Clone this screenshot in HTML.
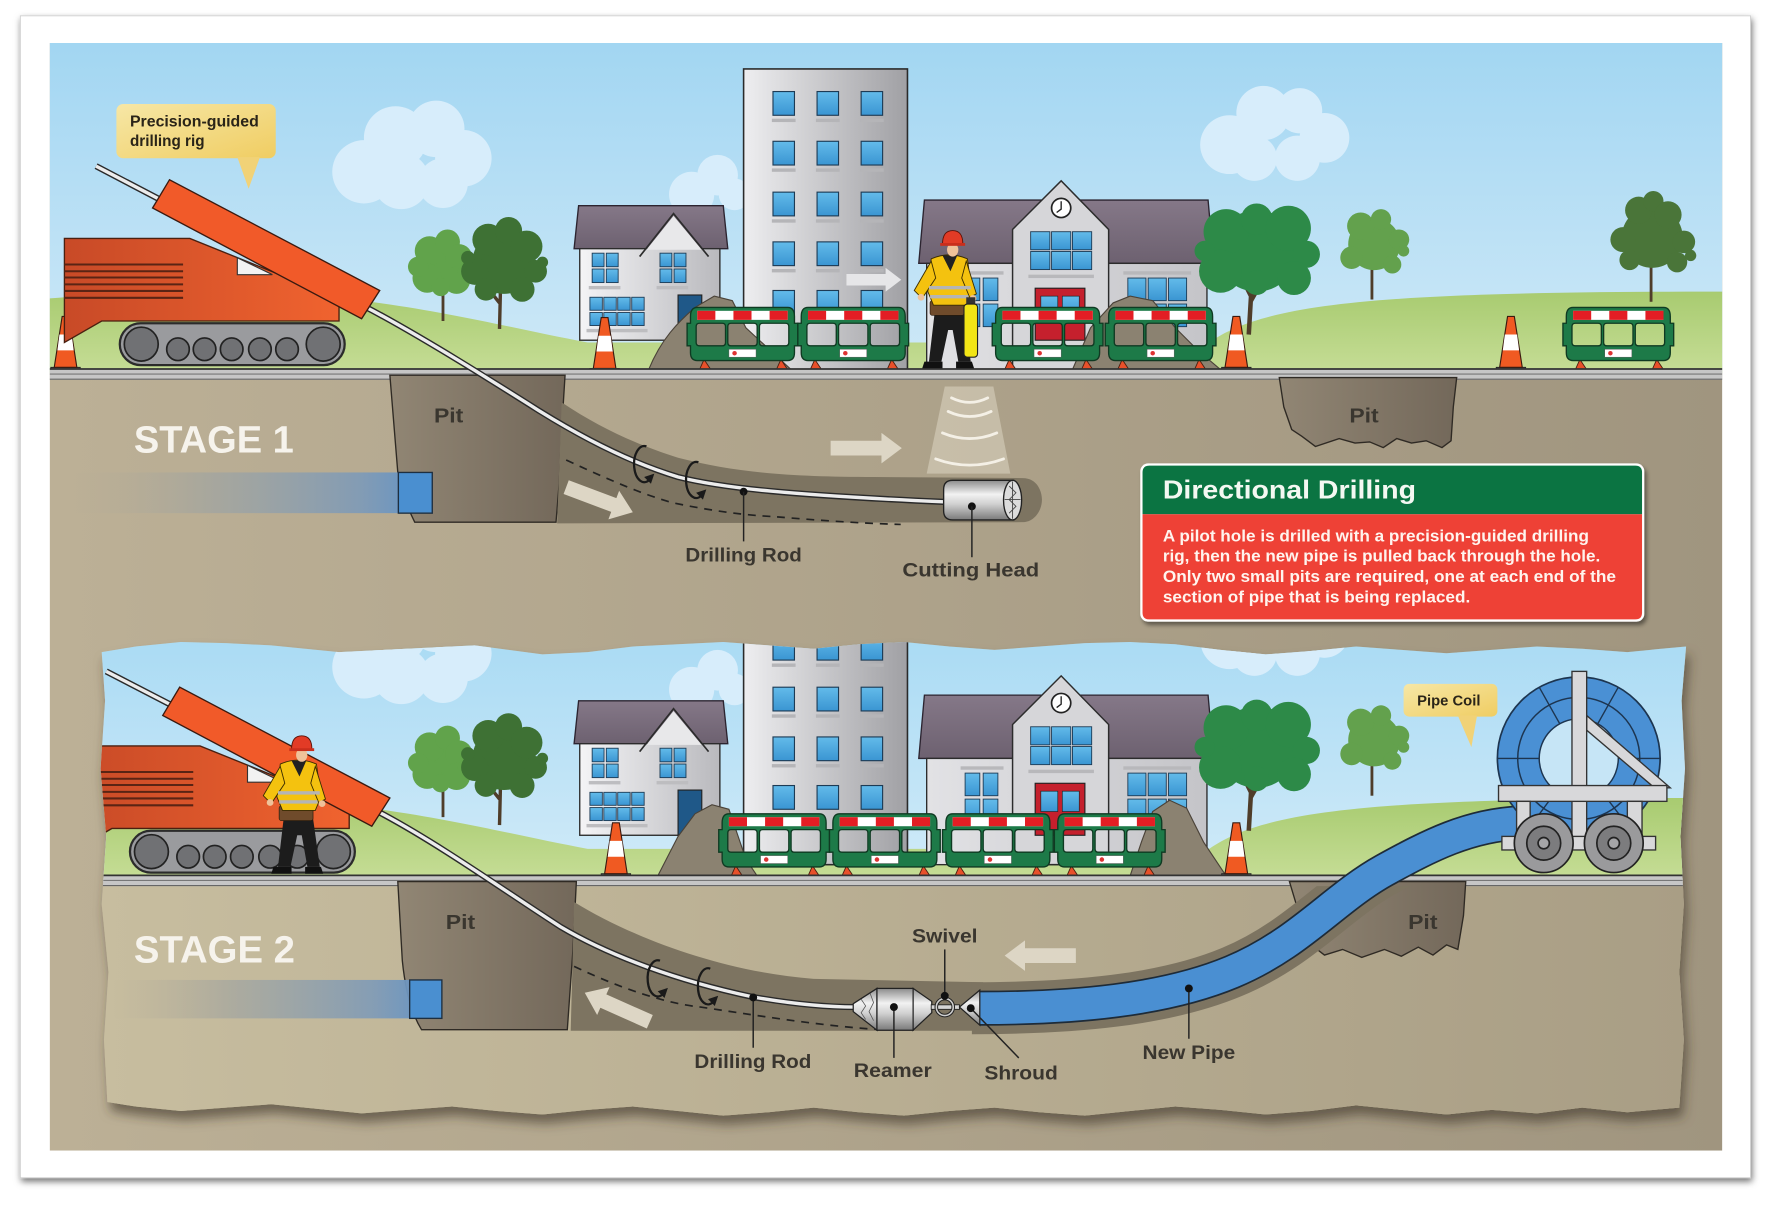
<!DOCTYPE html>
<html><head><meta charset="utf-8"><style>
html,body{margin:0;padding:0;background:#fff;}
svg{display:block;}
text{font-family:"Liberation Sans",sans-serif;font-weight:bold;}
</style></head><body>
<svg width="1772" height="1206" viewBox="0 0 1568 1067" preserveAspectRatio="none" xmlns="http://www.w3.org/2000/svg">
<defs>
<linearGradient id="gTan" gradientUnits="userSpaceOnUse" x1="44" y1="0" x2="1524" y2="0"><stop offset="0" stop-color="#bcb096"/><stop offset="1" stop-color="#a0957f"/></linearGradient>
<linearGradient id="gTan2" gradientUnits="userSpaceOnUse" x1="90" y1="0" x2="1495" y2="0"><stop offset="0" stop-color="#c7bd9f"/><stop offset="1" stop-color="#a99e85"/></linearGradient>
<linearGradient id="gSky" gradientUnits="userSpaceOnUse" x1="0" y1="38" x2="0" y2="320"><stop offset="0" stop-color="#a2d6f2"/><stop offset="1" stop-color="#cde8f7"/></linearGradient>
<linearGradient id="gSky2" gradientUnits="userSpaceOnUse" x1="0" y1="565" x2="0" y2="775"><stop offset="0" stop-color="#aadbf4"/><stop offset="1" stop-color="#d0eaf8"/></linearGradient>
<linearGradient id="gGrass" x1="0" y1="0" x2="0" y2="1"><stop offset="0" stop-color="#a8cb70"/><stop offset="1" stop-color="#c6dd96"/></linearGradient>
<linearGradient id="gPit" x1="0" y1="0" x2="1" y2="0"><stop offset="0" stop-color="#918674"/><stop offset="1" stop-color="#73685a"/></linearGradient>
<linearGradient id="gBody" x1="0" y1="0" x2="1" y2="0"><stop offset="0" stop-color="#c84a27"/><stop offset="1" stop-color="#f0632f"/></linearGradient>
<linearGradient id="gBld" x1="0" y1="0" x2="1" y2="0"><stop offset="0" stop-color="#eeeef0"/><stop offset="1" stop-color="#a0a0a4"/></linearGradient>
<linearGradient id="gWall" x1="0" y1="0" x2="1" y2="0"><stop offset="0" stop-color="#f4f4f6"/><stop offset="1" stop-color="#b9b9bd"/></linearGradient>
<linearGradient id="gSch" x1="0" y1="0" x2="1" y2="0"><stop offset="0" stop-color="#e2e2e5"/><stop offset="1" stop-color="#c4c4c8"/></linearGradient>
<linearGradient id="gRoof" x1="0" y1="0" x2="0" y2="1"><stop offset="0" stop-color="#857888"/><stop offset="1" stop-color="#6d6170"/></linearGradient>
<linearGradient id="gWin" x1="0" y1="0" x2="0" y2="1"><stop offset="0" stop-color="#63bbea"/><stop offset="1" stop-color="#3a95d2"/></linearGradient>
<linearGradient id="gBand" x1="0" y1="0" x2="1" y2="0"><stop offset="0" stop-color="#b4ab96" stop-opacity="0"/><stop offset="0.35" stop-color="#a3a59f" stop-opacity="0.7"/><stop offset="0.8" stop-color="#7d9ab8" stop-opacity="0.9"/><stop offset="1" stop-color="#5e92c8"/></linearGradient>
<linearGradient id="gMetal" x1="0" y1="0" x2="0" y2="1"><stop offset="0" stop-color="#8c8c8c"/><stop offset="0.35" stop-color="#f2f2f2"/><stop offset="0.6" stop-color="#d0d0d0"/><stop offset="1" stop-color="#7a7a7a"/></linearGradient>
<linearGradient id="gYel" x1="0" y1="0" x2="1" y2="1"><stop offset="0" stop-color="#f6e7a6"/><stop offset="1" stop-color="#f0cd62"/></linearGradient>
<filter id="fFrame" x="-5%" y="-5%" width="110%" height="110%"><feDropShadow dx="1" dy="3" stdDeviation="3" flood-color="#000" flood-opacity=".55"/></filter>
<filter id="fPanel" x="-5%" y="-10%" width="110%" height="125%"><feDropShadow dx="3" dy="8" stdDeviation="5" flood-color="#3e3427" flood-opacity=".6"/></filter>
<filter id="fBox" x="-5%" y="-10%" width="110%" height="125%"><feDropShadow dx="2" dy="3" stdDeviation="2" flood-color="#000" flood-opacity=".45"/></filter>

<clipPath id="cpInner"><rect x="44" y="38" width="1480" height="980"/></clipPath>
<clipPath id="cpUnder"><rect x="0" y="784" width="1568" height="300"/></clipPath>
<clipPath id="cp2"><path d="M90,577 L120,572 L160,568 L200,569 L240,571 L270,574 L300,577 L340,575 L380,573 L420,571 L450,575 L480,579 L520,577 L560,572 L600,570 L640,568 L680,571 L720,574 L760,570 L800,568 L840,572 L880,575 L920,572 L960,569 L1000,568 L1040,570 L1080,575 L1120,579 L1160,576 L1200,572 L1240,575 L1280,578 L1320,575 L1360,572 L1400,574 L1440,577 L1470,574 L1492,572 L1488,620 L1491,680 L1487,740 L1490,800 L1486,860 L1490,920 L1486,980 L1440,984 L1400,980 L1360,985 L1320,982 L1280,986 L1240,982 L1200,978 L1160,983 L1120,986 L1080,982 L1040,979 L1000,983 L960,987 L920,984 L880,980 L840,983 L800,987 L760,984 L720,980 L680,984 L640,987 L600,983 L560,979 L520,982 L480,986 L440,983 L400,979 L360,982 L320,985 L280,981 L240,977 L200,980 L160,983 L120,979 L95,975 L92,920 L96,860 L90,800 L94,740 L89,680 L93,620 Z"/></clipPath>

<path id="arr" d="M0,-6.5 H45 V-13.5 L63,0 L45,13.5 V6.5 H0 Z"/>

<g id="rot">
 <path d="M3,-16 A9,16 0 1 0 6,13" fill="none" stroke="#1a1a1a" stroke-width="2"/>
 <path d="M1,11 L10,8 L7,17 Z" fill="#1a1a1a"/>
</g>

<g id="cone">
 <rect x="0" y="45" width="26" height="5" fill="#555" stroke="#222" stroke-width=".8"/>
 <path d="M10,0 H16 L23,45 H3 Z" fill="#f05a22" stroke="#3a1a10" stroke-width="1"/>
 <path d="M7.6,16 H18.4 L20.2,30 H5.8 Z" fill="#fff"/>
</g>

<g id="barrier">
 <path d="M14,46 L10,55 L20,55 Z M82,46 L78,55 L88,55 Z" fill="#e8502a" stroke="#4a1f10" stroke-width="0.8"/>
 <path fill="#1d7a48" stroke="#0f3a22" stroke-width="1.2" fill-rule="evenodd" d="M8,0 H88 Q94,0 94,8 V14 H97 V34 H94 V40 Q94,47 88,47 H8 Q2,47 2,40 V34 H-1 V14 H2 V8 Q2,0 8,0 Z M10,14 H30 Q33,14 33,17 V31 Q33,34 30,34 H10 Q7,34 7,31 V17 Q7,14 10,14 Z M38,14 H58 Q61,14 61,17 V31 Q61,34 58,34 H38 Q35,34 35,31 V17 Q35,14 38,14 Z M66,14 H86 Q89,14 89,17 V31 Q89,34 86,34 H66 Q63,34 63,31 V17 Q63,14 66,14 Z"/>
 <rect x="8" y="3" width="80" height="8" fill="#fff"/>
 <rect x="8" y="3" width="16" height="8" fill="#e31e24"/>
 <rect x="40" y="3" width="16" height="8" fill="#e31e24"/>
 <rect x="72" y="3" width="16" height="8" fill="#e31e24"/>
 <rect x="36" y="37" width="24" height="7" fill="#fff" stroke="#555" stroke-width=".4"/>
 <circle cx="41" cy="40.5" r="2" fill="#d33"/>
</g>

<g id="clouds" fill="#d7edfb">
 <circle cx="322" cy="152" r="28"/><circle cx="350" cy="122" r="28"/><circle cx="386" cy="114" r="25"/><circle cx="410" cy="140" r="25"/><circle cx="392" cy="162" r="22"/><circle cx="355" cy="160" r="25"/>
 <circle cx="1088" cy="128" r="26"/><circle cx="1118" cy="100" r="24"/><circle cx="1150" cy="98" r="20"/><circle cx="1172" cy="122" r="22"/><circle cx="1148" cy="140" r="20"/><circle cx="1110" cy="140" r="20"/>
 <circle cx="612" cy="172" r="20"/><circle cx="635" cy="155" r="18"/><circle cx="650" cy="172" r="14"/>
</g>

<path id="grass" d="M44,264 C120,258 230,256 320,266 C400,276 460,292 520,303 L1070,303 C1120,268 1220,258 1524,258 L1524,330 L44,330 Z" fill="url(#gGrass)"/>

<g id="treesAB">
 <path d="M392,284 L392,246 M392,262 L386,252" stroke="#4f3d2a" stroke-width="2.5" fill="none"/>
 <g fill="#61a34b"><circle cx="391" cy="235" r="22"/><circle cx="380" cy="222" r="13"/><circle cx="396" cy="214" r="11"/><circle cx="406" cy="228" r="12"/><circle cx="378" cy="246" r="13"/><circle cx="404" cy="248" r="12"/><circle cx="370" cy="236" r="9"/><circle cx="412" cy="240" r="7"/><circle cx="390" cy="254" r="8"/></g>
 <path d="M442,291 L443,250 M442,268 L434,258" stroke="#4f3d2a" stroke-width="3" fill="none"/>
 <g fill="#3e7134"><circle cx="446" cy="232" r="28"/><circle cx="432" cy="212" r="14"/><circle cx="450" cy="204" r="12"/><circle cx="466" cy="218" r="14"/><circle cx="474" cy="240" r="10"/><circle cx="420" cy="240" r="12"/><circle cx="430" cy="256" r="10"/><circle cx="462" cy="256" r="11"/><circle cx="414" cy="228" r="6"/><circle cx="480" cy="232" r="5"/></g>
</g>

<g id="treesCD">
 <path d="M1105,296 L1107,262 L1100,248 M1107,266 L1116,250" stroke="#4f3d2a" stroke-width="4" fill="none"/>
 <g fill="#2d8a48"><circle cx="1112" cy="222" r="36"/><circle cx="1085" cy="205" r="20"/><circle cx="1112" cy="194" r="14"/><circle cx="1140" cy="202" r="20"/><circle cx="1156" cy="225" r="12"/><circle cx="1145" cy="246" r="15"/><circle cx="1080" cy="240" r="19"/><circle cx="1066" cy="222" r="9"/><circle cx="1112" cy="250" r="11"/></g>
 <path d="M1214,265 L1214,232" stroke="#4f3d2a" stroke-width="2.5" fill="none"/>
 <g fill="#63a14d"><circle cx="1216" cy="216" r="23"/><circle cx="1204" cy="200" r="12"/><circle cx="1222" cy="194" r="9"/><circle cx="1238" cy="212" r="9"/><circle cx="1196" cy="228" r="10"/><circle cx="1232" cy="234" r="8"/><circle cx="1242" cy="222" r="5"/></g>
</g>

<g id="town">
 <!-- house -->
 <path d="M508,220 L512,182 L640,182 L644,220 Z" fill="url(#gRoof)" stroke="#2c2430" stroke-width="1.2"/>
 <rect x="513" y="220" width="124" height="81" fill="url(#gWall)" stroke="#2c2c2c" stroke-width="1.2"/>
 <path d="M572,221 L596,191 L621,221 Z" fill="#e8e8ea"/>
 <path d="M566,227 L596,189 L627,227" fill="none" stroke="#2c2c2c" stroke-width="1.5"/>
 <g fill="url(#gWin)" stroke="#1d3b55" stroke-width=".8">
  <rect x="524" y="224" width="10.5" height="12"/><rect x="536.5" y="224" width="10.5" height="12"/><rect x="524" y="238" width="10.5" height="12"/><rect x="536.5" y="238" width="10.5" height="12"/>
  <rect x="584" y="224" width="10.5" height="12"/><rect x="596.5" y="224" width="10.5" height="12"/><rect x="584" y="238" width="10.5" height="12"/><rect x="596.5" y="238" width="10.5" height="12"/>
  <rect x="522" y="263" width="11" height="11.5"/><rect x="534.3" y="263" width="11" height="11.5"/><rect x="546.6" y="263" width="11" height="11.5"/><rect x="559" y="263" width="11" height="11.5"/>
  <rect x="522" y="276.5" width="11" height="11.5"/><rect x="534.3" y="276.5" width="11" height="11.5"/><rect x="546.6" y="276.5" width="11" height="11.5"/><rect x="559" y="276.5" width="11" height="11.5"/>
 </g>
 <g fill="#bdbdc0"><rect x="521" y="253" width="28" height="3"/><rect x="581" y="253" width="28" height="3"/><rect x="519" y="291" width="54" height="3"/></g>
 <rect x="600" y="261" width="21" height="40" fill="#1f5888" stroke="#222" stroke-width="1"/>
 <!-- tall building -->
 <rect x="658" y="61" width="145" height="266" fill="url(#gBld)" stroke="#2a2a2a" stroke-width="1.4"/>
 <g fill="url(#gWin)" stroke="#1d3b55" stroke-width="1">
  <rect x="684" y="81" width="19" height="21"/><rect x="723" y="81" width="19" height="21"/><rect x="762" y="81" width="19" height="21"/>
  <rect x="684" y="125" width="19" height="21"/><rect x="723" y="125" width="19" height="21"/><rect x="762" y="125" width="19" height="21"/>
  <rect x="684" y="170" width="19" height="21"/><rect x="723" y="170" width="19" height="21"/><rect x="762" y="170" width="19" height="21"/>
  <rect x="684" y="214" width="19" height="21"/><rect x="723" y="214" width="19" height="21"/><rect x="762" y="214" width="19" height="21"/>
  <rect x="684" y="257" width="19" height="21"/><rect x="723" y="257" width="19" height="21"/><rect x="762" y="257" width="19" height="21"/>
 </g>
 <g fill="#b5b5b8">
  <rect x="683" y="105" width="21" height="3"/><rect x="722" y="105" width="21" height="3"/><rect x="761" y="105" width="21" height="3"/>
  <rect x="683" y="149" width="21" height="3"/><rect x="722" y="149" width="21" height="3"/><rect x="761" y="149" width="21" height="3"/>
  <rect x="683" y="194" width="21" height="3"/><rect x="722" y="194" width="21" height="3"/><rect x="761" y="194" width="21" height="3"/>
  <rect x="683" y="238" width="21" height="3"/><rect x="722" y="238" width="21" height="3"/><rect x="761" y="238" width="21" height="3"/>
 </g>
 <!-- school -->
 <path d="M818,177 L1069,177 L1074,233 L813,233 Z" fill="url(#gRoof)" stroke="#2c2430" stroke-width="1.2"/>
 <rect x="820" y="233" width="248" height="94" fill="url(#gSch)" stroke="#2c2c2c" stroke-width="1.2"/>
 <g fill="#b8b8bb"><rect x="850" y="240" width="38" height="3"/><rect x="994" y="240" width="60" height="3"/></g>
 <path d="M896,327 V203 L939,160 L981,203 V327 Z" fill="#d6d6d9" stroke="#2c2c2c" stroke-width="1.3"/>
 <circle cx="939" cy="184" r="8.5" fill="#fff" stroke="#222" stroke-width="1.5"/>
 <path d="M939,178 V185 L935,188" stroke="#222" fill="none" stroke-width="1.2"/>
 <g fill="url(#gWin)" stroke="#1d3b55" stroke-width=".8">
  <rect x="912" y="205" width="17" height="16"/><rect x="930.5" y="205" width="17" height="16"/><rect x="949" y="205" width="17" height="16"/>
  <rect x="912" y="222.5" width="17" height="16"/><rect x="930.5" y="222.5" width="17" height="16"/><rect x="949" y="222.5" width="17" height="16"/>
  <rect x="854" y="246" width="13" height="20"/><rect x="870" y="246" width="13" height="20"/><rect x="854" y="269" width="13" height="20"/><rect x="870" y="269" width="13" height="20"/>
  <rect x="998" y="246" width="16" height="20"/><rect x="1016" y="246" width="16" height="20"/><rect x="1034" y="246" width="16" height="20"/>
  <rect x="998" y="269" width="16" height="20"/><rect x="1016" y="269" width="16" height="20"/><rect x="1034" y="269" width="16" height="20"/>
 </g>
 <rect x="910" y="243" width="58" height="3" fill="#b8b8bb"/>
 <rect x="916" y="255" width="44" height="46" fill="#c5202d" stroke="#222" stroke-width="1"/>
 <rect x="921" y="262" width="15" height="18" fill="url(#gWin)" stroke="#222" stroke-width=".6"/>
 <rect x="940" y="262" width="15" height="18" fill="url(#gWin)" stroke="#222" stroke-width=".6"/>
</g>

<g id="rigbody">
 <path d="M57,211 L168,211 L240,240 L300,264 L300,284 L90,284 L57,303 Z" fill="url(#gBody)" stroke="#4a2010" stroke-width="1.2"/>
 <g stroke="#5a2414" stroke-width="1.8">
  <line x1="57" y1="234" x2="162" y2="234"/><line x1="57" y1="240" x2="162" y2="240"/><line x1="57" y1="245.5" x2="162" y2="245.5"/><line x1="57" y1="251.6" x2="162" y2="251.6"/><line x1="57" y1="257.4" x2="162" y2="257.4"/><line x1="57" y1="263.5" x2="162" y2="263.5"/>
 </g>
 <path d="M210,228 L210,243 L241,243 Z" fill="#f2f2f2" stroke="#333" stroke-width="1"/>
 <rect x="106" y="286" width="199" height="37" rx="18.5" fill="#9a9b9e" stroke="#2b2b2b" stroke-width="2"/>
 <g fill="#707174" stroke="#222" stroke-width="1.5">
  <circle cx="125" cy="304.5" r="15"/><circle cx="286" cy="304.5" r="15"/>
  <circle cx="157.5" cy="309" r="10"/><circle cx="181" cy="309" r="10"/><circle cx="205" cy="309" r="10"/><circle cx="230" cy="309" r="10"/><circle cx="254" cy="309" r="10"/>
 </g>
</g>
<path id="boom" d="M135,184 L150,159 L336,257 L320,282 Z" fill="#f15a29" stroke="#3a1a10" stroke-width="1.2"/>

<g id="worker">
 <path d="M827,277 L822,320 L833,320 L839,292 L843,292 L848,320 L859,320 L853,277 Z" fill="#1c1c1c"/>
 <path d="M818,320 h16 v6 h-18 Z M846,320 h14 l2,6 h-16 Z" fill="#111"/>
 <rect x="823" y="266" width="30" height="13" rx="2" fill="#6f4b2b" stroke="#2a1a0a" stroke-width=".6"/>
 <path d="M824,229 Q840,222 856,229 L860,258 L855,270 L826,270 L821,258 Z" fill="#f4c20f" stroke="#3a2c00" stroke-width=".8"/>
 <path d="M834,226 L841,240 L847,226 Z" fill="#222"/>
 <path d="M824,231 L809,257 L816,264 L828,246 Z" fill="#f4c20f" stroke="#3a2c00" stroke-width=".8"/>
 <path d="M855,231 L864,260 L858,263 L851,246 Z" fill="#f4c20f" stroke="#3a2c00" stroke-width=".8"/>
 <rect x="822" y="253" width="37" height="3" fill="#b5b5b5"/>
 <rect x="823" y="261" width="34" height="3" fill="#b5b5b5"/>
 <circle cx="815" cy="263" r="3" fill="#efc29a"/>
 <circle cx="861" cy="264" r="3" fill="#efc29a"/>
 <ellipse cx="843" cy="221" rx="5" ry="6" fill="#efc29a"/>
 <path d="M834,216 Q834,204 843,204 Q852,204 852,216 Z" fill="#e23b26" stroke="#5a1208" stroke-width=".8"/>
 <rect x="832" y="215" width="22" height="2.5" fill="#c92e1c"/>
</g>
</defs>

<!-- outer frame -->
<rect x="18" y="14" width="1531" height="1028" fill="#fff" stroke="#cfcfcf" stroke-width="0.8" filter="url(#fFrame)"/>

<g clip-path="url(#cpInner)">
<rect x="44" y="38" width="1480" height="980" fill="url(#gTan)"/>

<!-- ===== STAGE 1 ===== -->
<rect x="44" y="38" width="1480" height="292" fill="url(#gSky)"/>
<use href="#clouds"/>
<use href="#grass"/>
<use href="#treesAB"/>
<use href="#town"/>
<use href="#treesCD"/>
<path d="M1461,267 L1461,228" stroke="#4f3d2a" stroke-width="2.5"/>
<g fill="#4a7539"><circle cx="1462" cy="210" r="27"/><circle cx="1450" cy="186" r="12"/><circle cx="1463" cy="178" r="9"/><circle cx="1476" cy="190" r="12"/><circle cx="1436" cy="212" r="11"/><circle cx="1490" cy="214" r="10"/><circle cx="1442" cy="230" r="9"/><circle cx="1484" cy="232" r="9"/><circle cx="1496" cy="226" r="5"/></g>
<use href="#arr" transform="translate(749,247.5) scale(0.77,0.78)" fill="#e6e6e8"/>
<path d="M574,327 C585,300 600,285 615,272 L632,262 L648,266 L660,290 L700,327 Z" fill="#8b8271" stroke="#4a4238" stroke-width="1"/>
<path d="M949,327 L965,290 L985,268 L1000,262 L1020,266 L1040,290 L1060,310 L1080,327 Z" fill="#8b8271" stroke="#4a4238" stroke-width="1"/>
<use href="#barrier" x="609" y="272"/>
<use href="#barrier" x="707" y="272"/>
<use href="#barrier" x="879" y="272"/>
<use href="#barrier" x="979" y="272"/>
<use href="#barrier" x="1384" y="272"/>
<use href="#cone" x="45" y="280"/>
<use href="#cone" x="522" y="281"/>
<use href="#cone" x="1081" y="280"/>
<use href="#cone" x="1324" y="280"/>
<use href="#worker"/>
<rect x="855" y="263" width="8" height="8" fill="#333"/>
<rect x="853" y="269" width="12" height="47" rx="3" fill="#f2e516" stroke="#222" stroke-width="1"/>
<use href="#rigbody"/>
<rect x="44" y="326" width="1480" height="10" fill="#c6c6c6"/>
<line x1="44" y1="326.5" x2="1524" y2="326.5" stroke="#333" stroke-width="1.5"/>
<line x1="44" y1="331" x2="1524" y2="331" stroke="#777" stroke-width="1"/>
<line x1="44" y1="335.5" x2="1524" y2="335.5" stroke="#666" stroke-width="1"/>
<rect x="103" y="92" width="141" height="48" rx="6" fill="url(#gYel)"/>
<path d="M210,139 L230,139 L220,167 Z" fill="#f1d277"/>
<text x="115" y="112" font-size="14" fill="#2a2418" textLength="114" lengthAdjust="spacingAndGlyphs">Precision-guided</text>
<text x="115" y="129" font-size="14" fill="#2a2418" textLength="66" lengthAdjust="spacingAndGlyphs">drilling rig</text>

<path d="M345,332 L500,332 L497,380 L495,425 L492,462 L367,462 Q356,440 352,418 Z" fill="url(#gPit)" stroke="#2f2a24" stroke-width="1.2"/>
<path d="M1132,334 L1289,334 L1286,360 L1284,390 L1276,396 L1262,390 L1249,392 L1236,388 L1224,396 L1212,391 L1199,392 L1185,388 L1164,395 L1152,386 L1143,380 L1136,360 Z" fill="url(#gPit)" stroke="#2f2a24" stroke-width="1.2"/>
<path d="M497,356 C530,378 560,392 600,405 C650,418 700,422 773,422 L905,423 C918,423 922,435 922,442 C922,452 915,462 905,462 L493,463 Z" fill="#7d7461"/>
<path d="M501,407 C540,425 570,438 596,445 C630,452 660,456 684,457 C720,460 760,463 797,464" fill="none" stroke="#222" stroke-width="1.5" stroke-dasharray="7 6"/>
<rect x="65" y="418" width="317" height="36" fill="url(#gBand)"/>
<rect x="352.5" y="418" width="30" height="36" fill="#4a8fd0" stroke="#1e2f40" stroke-width="1.2"/>
<text x="118.5" y="400.5" font-size="34" fill="#f6f3ec" textLength="141.5" lengthAdjust="spacingAndGlyphs">STAGE 1</text>
<text x="384" y="374" font-size="18" fill="#3a362f" textLength="26" lengthAdjust="spacingAndGlyphs">Pit</text>
<text x="1194" y="374" font-size="18" fill="#3a362f" textLength="26" lengthAdjust="spacingAndGlyphs">Pit</text>
<use href="#arr" transform="translate(501,431) rotate(20.6)" fill="#ddd6c5"/>
<use href="#arr" transform="translate(735,396.5)" fill="#ddd6c5"/>
<path d="M836,342 L879,342 L894,419 L820,419 Z" fill="#e6dfcf" opacity=".45"/>
<g fill="none" stroke="#f4f0e6" stroke-width="2.5" stroke-linecap="round">
 <path d="M842,352 Q858,360 874,352"/><path d="M839,364 Q858,373 877,364"/><path d="M834,383 Q858,393 882,383"/><path d="M828,406 Q858,417 888,406"/>
</g>
<path d="M85,147 L330,275 C380,302 440,340 478,364 C520,390 560,410 600,422 C640,432 700,438 835,444" fill="none" stroke="#2a2a2a" stroke-width="5.5"/>
<path d="M85,147 L330,275 C380,302 440,340 478,364 C520,390 560,410 600,422 C640,432 700,438 835,444" fill="none" stroke="#ececec" stroke-width="3"/>
<use href="#boom"/>
<use href="#rot" transform="translate(569,411)"/>
<use href="#rot" transform="translate(615,425)"/>
<path d="M843,425 H897 V460 H843 Q835,460 835,452 V433 Q835,425 843,425 Z" fill="url(#gMetal)" stroke="#222" stroke-width="1.2"/>
<ellipse cx="896" cy="442.5" rx="8" ry="17.5" fill="#dcdcdc" stroke="#222" stroke-width="1.2"/>
<path d="M896,426 V459 M889,442 H903 M893,430 L899,436 L893,442 L899,448 L893,454" fill="none" stroke="#444" stroke-width=".8"/>
<circle cx="658" cy="435" r="3.5" fill="#111"/>
<line x1="658" y1="435" x2="658" y2="479" stroke="#222" stroke-width="1.3"/>
<circle cx="860" cy="448" r="3.5" fill="#111"/>
<line x1="860" y1="448" x2="860" y2="493" stroke="#222" stroke-width="1.3"/>
<text x="606.5" y="497" font-size="17" fill="#3a362f" textLength="103" lengthAdjust="spacingAndGlyphs">Drilling Rod</text>
<text x="798.5" y="510" font-size="17" fill="#3a362f" textLength="121" lengthAdjust="spacingAndGlyphs">Cutting Head</text>

<rect x="1009" y="410" width="446" height="140" rx="7" fill="#fff" filter="url(#fBox)"/>
<path d="M1011,455 V418 Q1011,412 1017,412 H1447 Q1453,412 1453,418 V455 Z" fill="#0b7442"/>
<path d="M1011,455 H1453 V542 Q1453,548 1447,548 H1017 Q1011,548 1011,542 Z" fill="#ee4136"/>
<text x="1029" y="441" font-size="23" fill="#f4f8f2" textLength="224" lengthAdjust="spacingAndGlyphs">Directional Drilling</text>
<g font-size="14.5" fill="#fff4ee">
<text x="1029" y="479" textLength="377" lengthAdjust="spacingAndGlyphs">A pilot hole is drilled with a precision-guided drilling</text>
<text x="1029" y="497" textLength="387" lengthAdjust="spacingAndGlyphs">rig, then the new pipe is pulled back through the hole.</text>
<text x="1029" y="515" textLength="401" lengthAdjust="spacingAndGlyphs">Only two small pits are required, one at each end of the</text>
<text x="1029" y="533" textLength="272" lengthAdjust="spacingAndGlyphs">section of pipe that is being replaced.</text>
</g>

<!-- ===== STAGE 2 ===== -->
<path d="M90,577 L120,572 L160,568 L200,569 L240,571 L270,574 L300,577 L340,575 L380,573 L420,571 L450,575 L480,579 L520,577 L560,572 L600,570 L640,568 L680,571 L720,574 L760,570 L800,568 L840,572 L880,575 L920,572 L960,569 L1000,568 L1040,570 L1080,575 L1120,579 L1160,576 L1200,572 L1240,575 L1280,578 L1320,575 L1360,572 L1400,574 L1440,577 L1470,574 L1492,572 L1488,620 L1491,680 L1487,740 L1490,800 L1486,860 L1490,920 L1486,980 L1440,984 L1400,980 L1360,985 L1320,982 L1280,986 L1240,982 L1200,978 L1160,983 L1120,986 L1080,982 L1040,979 L1000,983 L960,987 L920,984 L880,980 L840,983 L800,987 L760,984 L720,980 L680,984 L640,987 L600,983 L560,979 L520,982 L480,986 L440,983 L400,979 L360,982 L320,985 L280,981 L240,977 L200,980 L160,983 L120,979 L95,975 L92,920 L96,860 L90,800 L94,740 L89,680 L93,620 Z" fill="#b9af92" filter="url(#fPanel)"/>
<g clip-path="url(#cp2)">
 <rect x="85" y="560" width="1415" height="440" fill="url(#gTan2)"/>
 <rect x="85" y="560" width="1415" height="220" fill="url(#gSky2)"/>
 <use href="#clouds" transform="translate(0,438)"/>
 <use href="#grass" transform="translate(0,448)"/>
 <use href="#treesAB" transform="translate(0,439)"/>
 <use href="#town" transform="translate(0,438)"/>
 <use href="#treesCD" transform="translate(0,439)"/>
 <path d="M582,775 L600,740 L615,720 L630,712 L645,716 L660,760 L670,775 Z" fill="#8b8271" stroke="#4a4238" stroke-width="1"/>
 <path d="M1000,775 L1010,745 L1020,718 L1035,708 L1050,715 L1065,745 L1085,775 Z" fill="#8b8271" stroke="#4a4238" stroke-width="1"/>
 <use href="#barrier" x="637" y="720"/>
 <use href="#barrier" x="735" y="720"/>
 <use href="#barrier" x="835" y="720"/>
 <use href="#barrier" x="934" y="720"/>
 <use href="#cone" x="532" y="728"/>
 <use href="#cone" x="1081" y="728"/>
 <use href="#rigbody" transform="translate(9,449)"/>
 <rect x="85" y="774" width="1415" height="10" fill="#c6c6c6"/>
 <line x1="85" y1="774.5" x2="1500" y2="774.5" stroke="#333" stroke-width="1.5"/>
 <line x1="85" y1="779" x2="1500" y2="779" stroke="#777" stroke-width="1"/>
 <line x1="85" y1="783.5" x2="1500" y2="783.5" stroke="#666" stroke-width="1"/>
 <path d="M352,780 L510,780 L507,840 L502,911 L373,911 Q360,890 356,850 Z" fill="url(#gPit)" stroke="#2f2a24" stroke-width="1.2"/>
 <path d="M1141,780 L1297,780 L1295,810 L1290,840 L1280,836 L1268,845 L1255,838 L1240,846 L1225,840 L1205,847 L1188,840 L1172,845 L1163,838 L1150,810 Z" fill="url(#gPit)" stroke="#2f2a24" stroke-width="1.2"/>
 <path d="M508,798 C560,830 640,860 720,866 L870,869 L870,912 L505,912 Z" fill="#7d7461"/>
 <path clip-path="url(#cpUnder)" d="M860,892 C950,892 1030,885 1090,860 C1150,835 1180,795 1225,770 C1265,748 1300,730 1345,728" fill="none" stroke="#7d7461" stroke-width="46"/>
 <path d="M508,855 C550,875 590,888 620,891 C680,900 730,908 780,911" fill="none" stroke="#222" stroke-width="1.5" stroke-dasharray="7 6"/>
 <rect x="100" y="867" width="291" height="34" fill="url(#gBand)"/>
 <rect x="362.5" y="867" width="28.5" height="34" fill="#4a8fd0" stroke="#1e2f40" stroke-width="1.2"/>
 <text x="118.5" y="851.5" font-size="34" fill="#f6f3ec" textLength="142.5" lengthAdjust="spacingAndGlyphs">STAGE 2</text>
 <text x="394.5" y="822" font-size="18" fill="#3a362f" textLength="26" lengthAdjust="spacingAndGlyphs">Pit</text>
 <text x="1246" y="822" font-size="18" fill="#3a362f" textLength="26" lengthAdjust="spacingAndGlyphs">Pit</text>
 <use href="#arr" transform="translate(575,904) rotate(204)" fill="#ddd6c5"/>
 <use href="#arr" transform="translate(952,845.5) rotate(180)" fill="#ddd6c5"/>
 <path d="M867,892 C950,892 1030,885 1090,860 C1150,835 1180,795 1225,770 C1265,748 1300,730 1345,728" fill="none" stroke="#1e2b38" stroke-width="31"/>
 <path d="M867,892 C950,892 1030,885 1090,860 C1150,835 1180,795 1225,770 C1265,748 1300,730 1346,728" fill="none" stroke="#4a8fd2" stroke-width="28"/>
 <circle cx="1397" cy="671" r="72" fill="#4a90d4" stroke="#1d3550" stroke-width="1.5"/>
 <circle cx="1397" cy="671" r="54" fill="none" stroke="#1d3550" stroke-width="1.3"/>
 <circle cx="1397" cy="671" r="35" fill="#c6e5f6" stroke="#1d3550" stroke-width="1.3"/>
 <path d="M1362,671 H1325 M1432,671 H1469 M1397,636 V599 M1380,640 L1362,608 M1414,640 L1432,608 M1377,700 L1355,730 M1417,700 L1440,730" stroke="#1d3550" stroke-width="1.2"/>
 <g fill="#d8d8da" stroke="#333" stroke-width="1.2">
  <path d="M1404,633 L1404,646 L1464,697 L1478,697 Z"/>
  <rect x="1391" y="594" width="13" height="154"/>
  <rect x="1326" y="695" width="149" height="14"/>
  <rect x="1342" y="709" width="12" height="34"/>
  <rect x="1440" y="709" width="13" height="34"/>
  <rect x="1329" y="740" width="136" height="12"/>
 </g>
 <g stroke="#222" stroke-width="1.5">
  <circle cx="1366" cy="746" r="26" fill="#9a9a9c"/><circle cx="1366" cy="746" r="15" fill="#7c7c7e"/><circle cx="1366" cy="746" r="5" fill="#a5a5a7"/>
  <circle cx="1428" cy="746" r="26" fill="#9a9a9c"/><circle cx="1428" cy="746" r="15" fill="#7c7c7e"/><circle cx="1428" cy="746" r="5" fill="#a5a5a7"/>
 </g>
 <rect x="1242" y="605" width="83" height="29" rx="5" fill="url(#gYel)"/>
 <path d="M1290,633 L1307,633 L1302,661 Z" fill="#f1d277"/>
 <text x="1254" y="624" font-size="13" fill="#2a2418" textLength="56" lengthAdjust="spacingAndGlyphs">Pipe Coil</text>
 <path d="M94,594 L340,721 C390,748 445,787 496,820 C540,846 600,868 666,882 C700,888 730,891 757,891" fill="none" stroke="#2a2a2a" stroke-width="5.5"/>
 <path d="M94,594 L340,721 C390,748 445,787 496,820 C540,846 600,868 666,882 C700,888 730,891 757,891" fill="none" stroke="#ececec" stroke-width="3"/>
 <use href="#boom" transform="translate(9,449)"/>
 <use href="#worker" transform="translate(-576,447)"/>
 <use href="#rot" transform="translate(581,866)"/>
 <use href="#rot" transform="translate(625.5,873)"/>
 <path d="M755,888 L776,874.5 L776,911.5 L755,895 Z" fill="url(#gMetal)" stroke="#222" stroke-width="1.1"/>
 <path d="M762,884 L766,890 L762,896 L766,902 M770,879 L773,887 L769,895 L773,903" fill="none" stroke="#555" stroke-width=".7"/>
 <rect x="776" y="874.5" width="32" height="37" fill="url(#gMetal)" stroke="#222" stroke-width="1.1"/>
 <path d="M808,874.5 L824.5,886 L824.5,896 L808,911.5 Z" fill="url(#gMetal)" stroke="#222" stroke-width="1.1"/>
 <rect x="824" y="889" width="25" height="4" fill="#d5d5d5" stroke="#222" stroke-width=".8"/>
 <circle cx="836" cy="891" r="7.5" fill="none" stroke="#222" stroke-width="3.2"/>
 <circle cx="836" cy="891" r="7.5" fill="none" stroke="#cfcfcf" stroke-width="1.4"/>
 <path d="M849,891 L867,876 L867,907 Z" fill="url(#gMetal)" stroke="#222" stroke-width="1.1"/>
 <g stroke="#222" stroke-width="1.3">
  <line x1="836" y1="881" x2="836" y2="840"/>
  <line x1="666.5" y1="882.5" x2="666.5" y2="927"/>
  <line x1="791" y1="891" x2="791" y2="936"/>
  <line x1="859" y1="892" x2="901.5" y2="936"/>
  <line x1="1052" y1="874.5" x2="1052" y2="919"/>
 </g>
 <g fill="#111">
  <circle cx="836" cy="881" r="3.5"/><circle cx="666.5" cy="882.5" r="3.5"/><circle cx="791" cy="891" r="3.5"/><circle cx="859" cy="892" r="3.5"/><circle cx="1052" cy="874.5" r="3.5"/>
 </g>
 <g font-size="17" fill="#3a362f">
  <text x="807" y="834" textLength="58" lengthAdjust="spacingAndGlyphs">Swivel</text>
  <text x="614.5" y="945" textLength="103.5" lengthAdjust="spacingAndGlyphs">Drilling Rod</text>
  <text x="755.5" y="953" textLength="69" lengthAdjust="spacingAndGlyphs">Reamer</text>
  <text x="871" y="955" textLength="65" lengthAdjust="spacingAndGlyphs">Shroud</text>
  <text x="1011" y="937" textLength="82" lengthAdjust="spacingAndGlyphs">New Pipe</text>
 </g>
</g>
</g>
</svg>
</body></html>
